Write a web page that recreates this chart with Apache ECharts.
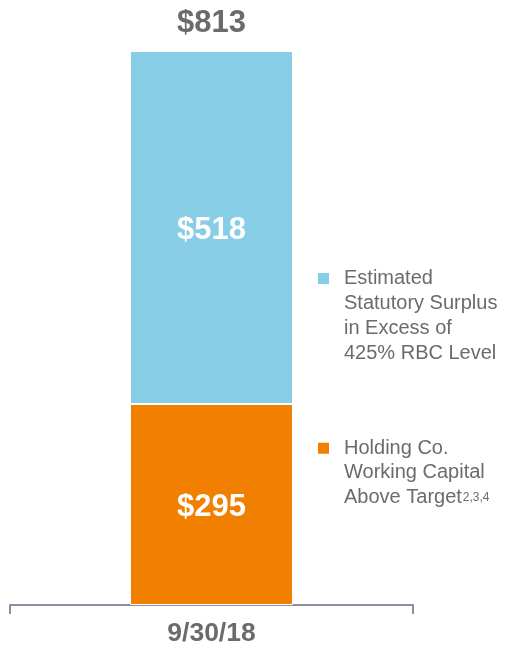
<!DOCTYPE html>
<html>
<head>
<meta charset="utf-8">
<script src="https://cdn.jsdelivr.net/npm/echarts@6/dist/echarts.min.js"></script>
<style>html,body{margin:0;padding:0;background:#fff;}#c{width:510px;height:646px;}</style>
</head>
<body>
<div id="c"></div>
<script>
const categories = ['9/30/18'];
const holdingCo = [295];
const surplus = [518];
const totals = [813];
const seriesNames = ['Holding Co. Working Capital Above Target', 'Estimated Statutory Surplus in Excess of 425% RBC Level'];

const chart = echarts.init(document.getElementById('c'));
const font = '"Liberation Sans", Arial, sans-serif';
const textGray = '#6b6b6b';
const blue = '#87CDE6';
const orange = '#F28000';

chart.setOption({
  animation: false,
  grid: { left: 10, right: 97, top: 51, bottom: 41, containLabel: false, outerBoundsMode: 'none' },
  xAxis: {
    type: 'category',
    data: categories,
    axisLine: { show: true, lineStyle: { color: '#8a8da3', width: 2 } },
    axisTick: { show: true, length: 9, lineStyle: { color: '#8a8da3', width: 2 } },
    axisLabel: { color: textGray, fontSize: 26.5, fontWeight: 'bold', fontFamily: font, margin: 15 }
  },
  yAxis: { type: 'value', min: 0, max: 813, show: false, splitLine: { show: false } },
  legend: [
    {
      left: 311, top: 186, orient: 'vertical', icon: 'rect', itemWidth: 13, itemHeight: 13,
      data: [seriesNames[1]],
      formatter: function () { return ' \n \n \nEstimated\nStatutory Surplus\nin Excess of\n425% RBC Level'; },
      textStyle: { color: textGray, fontSize: 20, fontFamily: font, lineHeight: 25, padding: [0, 0, 0, 9] }
    },
    {
      left: 311, top: 382, orient: 'vertical', icon: 'rect', itemWidth: 13, itemHeight: 13,
      data: [seriesNames[0]],
      formatter: function () { return '{a| }\n{a| }\n{a|Holding Co.}\n{a|Working Capital}\n{a|Above Target}{s|2,3,4}'; },
      textStyle: {
        color: textGray, fontSize: 20, fontFamily: font, lineHeight: 24.5, padding: [0, 0, 0, 9],
        rich: {
          a: { color: textGray, fontSize: 20, fontFamily: font, lineHeight: 24.5 },
          s: { color: textGray, fontSize: 12, fontFamily: font, lineHeight: 24.5, padding: [0, 0, 0, 1] }
        }
      }
    }
  ],
  series: [
    {
      name: seriesNames[0], type: 'bar', stack: 'total', data: holdingCo, barWidth: 163,
      itemStyle: { color: orange, borderColor: '#fff', borderWidth: 1 },
      label: { show: true, position: 'inside', offset: [0, 3], color: '#fff', fontSize: 31, fontWeight: 'bold', fontFamily: font, formatter: p => '$' + p.value }
    },
    {
      name: seriesNames[1], type: 'bar', stack: 'total', data: surplus, barWidth: 163,
      itemStyle: { color: blue, borderColor: '#fff', borderWidth: 1 },
      label: { show: true, position: 'inside', offset: [0, 3], color: '#fff', fontSize: 31, fontWeight: 'bold', fontFamily: font, formatter: p => '$' + p.value }
    },
    {
      name: 'Total', type: 'bar', stack: 'total', data: totals.map(() => 0), barWidth: 163,
      itemStyle: { color: 'transparent' },
      label: { show: true, position: 'top', distance: 12, color: textGray, fontSize: 31, fontWeight: 'bold', fontFamily: font, formatter: p => '$' + totals[p.dataIndex] }
    }
  ]
});
</script>
</body>
</html>
